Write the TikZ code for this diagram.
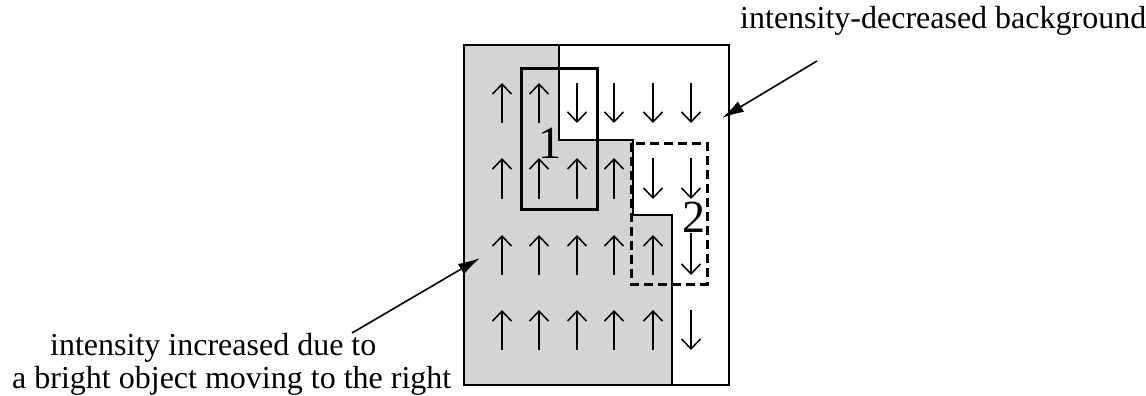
\documentclass[tikz,border=0pt]{standalone}
\usepackage{fontspec}
\setmainfont{Liberation Serif}
\usetikzlibrary{arrows.meta}
\begin{document}
\begin{tikzpicture}[x=1pt,y=-1pt,
  gridarrow/.style={line width=1.5pt,-{Straight Barb[length=10pt,width=19pt,line width=1.5pt]}},
  callout/.style={line width=1.6pt,-{Latex[length=22pt,width=12pt]}},
  lbl/.style={font=\fontsize{32}{38}\selectfont, inner sep=0pt},
  num/.style={font=\fontsize{46}{50}\selectfont, inner sep=0pt}]
\useasboundingbox (0,0) rectangle (1146,396);
% gray region
\fill[black!17] (464,45) -- (559,45) -- (559,140) -- (633,140) -- (633,215) -- (672,215) -- (672,385) -- (464,385) -- cycle;
% outer frame
\draw[line width=1.5pt] (464,45) rectangle (729,385);
% boundary of gray region
\draw[line width=2pt] (559,45) -- (559,140) -- (633,140) -- (633,215) -- (672,215) -- (672,385);
% box 1
\draw[line width=3pt] (521,69) rectangle (597,209);
% box 2
\draw[line width=3pt, dash pattern=on 9pt off 5pt] (631,143) rectangle (707,284);
% up arrows
\foreach \x in {502,539} {\draw[gridarrow] (\x,123) -- (\x,83);}
\foreach \x in {502,539,577,614} {\draw[gridarrow] (\x,199) -- (\x,158);}
\foreach \x in {502,539,577,614,653} {\draw[gridarrow] (\x,275) -- (\x,235);}
\foreach \x in {502,539,577,614,653} {\draw[gridarrow] (\x,350) -- (\x,310);}
% down arrows
\foreach \x in {577,614,653,691} {\draw[gridarrow] (\x,83) -- (\x,123);}
\foreach \x in {653,691} {\draw[gridarrow] (\x,158) -- (\x,199);}
\draw[gridarrow] (691,233) -- (691,275);
\draw[gridarrow] (691,310) -- (691,350);
% labels
\node[num] (one) at (550,143) {1};
\node[num] (two) at (694,217) {2};
\node[lbl, anchor=base west] (bg) at (740,29) {intensity-decreased background};
\node[lbl, anchor=base west] (inc1) at (50,355) {intensity increased due to};
\node[lbl, anchor=base west] (inc2) at (12,388) {a bright object moving to the right};
% callouts
\coordinate (bgstart) at (817,61);
\coordinate (bgtip) at (722,118);
\coordinate (incstart) at (352,333);
\coordinate (inctip) at (480,258);
\draw[callout] (bgstart) -- (bgtip);
\draw[callout] (incstart) -- (inctip);
\end{tikzpicture}
\end{document}
